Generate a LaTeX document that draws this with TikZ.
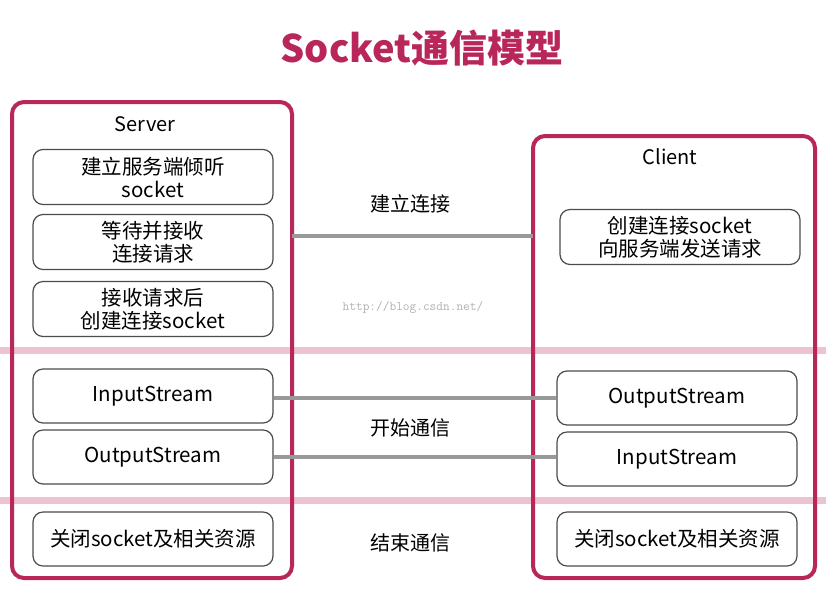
\documentclass[tikz,border=0pt]{standalone}
\usepackage{fontspec}
\setmainfont{Noto Sans CJK SC}
\begin{document}
\begin{tikzpicture}[x=1pt,y=-1pt,
  outer/.style={draw=crim,line width=4pt,rounded corners=12pt},
  inner/.style={draw=black!70,line width=1.2pt,rounded corners=10pt,fill=white,align=center,font=\fontsize{20.5}{23}\selectfont},
  conn/.style={draw=gray!80,line width=4pt},
  lbl/.style={font=\fontsize{20}{23}\selectfont}]
\definecolor{crim}{HTML}{B8265A}
\definecolor{band}{HTML}{EDC3CF}
\useasboundingbox (0,0) rectangle (826,590);
\fill[white] (0,0) rectangle (826,590);
\fill[band] (0,347) rectangle (826,354);
\fill[band] (0,497) rectangle (826,504);
\node[font=\fontsize{38}{44}\selectfont\bfseries,text=crim] (title) at (422,48) {Socket通信模型};
\draw[outer] (12,102) rectangle (292,578);
\draw[outer] (533,136) rectangle (815,578);
\node[lbl] (srv) at (145,124) {Server};
\node[lbl] (cli) at (670,157) {Client};
\node[inner,minimum width=240pt,minimum height=55pt] (s1) at (153,177) {建立服务端倾听\\socket};
\node[inner,minimum width=240pt,minimum height=55pt] (s2) at (153,242) {等待并接收\\连接请求};
\node[inner,minimum width=240pt,minimum height=55pt] (s3) at (153,309) {接收请求后\\创建连接socket};
\node[inner,minimum width=240pt,minimum height=54pt] (s4) at (153,396) {InputStream};
\node[inner,minimum width=240pt,minimum height=54pt] (s5) at (153,457) {OutputStream};
\node[inner,minimum width=240pt,minimum height=54pt] (s6) at (153,539) {关闭socket及相关资源};
\node[inner,minimum width=240pt,minimum height=55pt] (c1) at (680,237) {创建连接socket\\向服务端发送请求};
\node[inner,minimum width=240pt,minimum height=54pt] (c2) at (677,398) {OutputStream};
\node[inner,minimum width=240pt,minimum height=54pt] (c3) at (677,459) {InputStream};
\node[inner,minimum width=240pt,minimum height=54pt] (c4) at (677,539) {关闭socket及相关资源};
\coordinate (a1) at (292,236); \coordinate (a2) at (533,236);
\draw[conn] (a1) -- (a2);
\draw[conn] (s4.east |- 0,398) -- (c2.west |- 0,398);
\draw[conn] (s5.east |- 0,457) -- (c3.west |- 0,457);
\node[lbl] (l1) at (410,204) {建立连接};
\node[lbl] (l2) at (410,428) {开始通信};
\node[lbl] (l3) at (410,543) {结束通信};
\node[font=\ttfamily\fontsize{13}{15}\selectfont,text=black!30] (wm) at (413,307) {http://blog.csdn.net/};
\end{tikzpicture}
\end{document}
